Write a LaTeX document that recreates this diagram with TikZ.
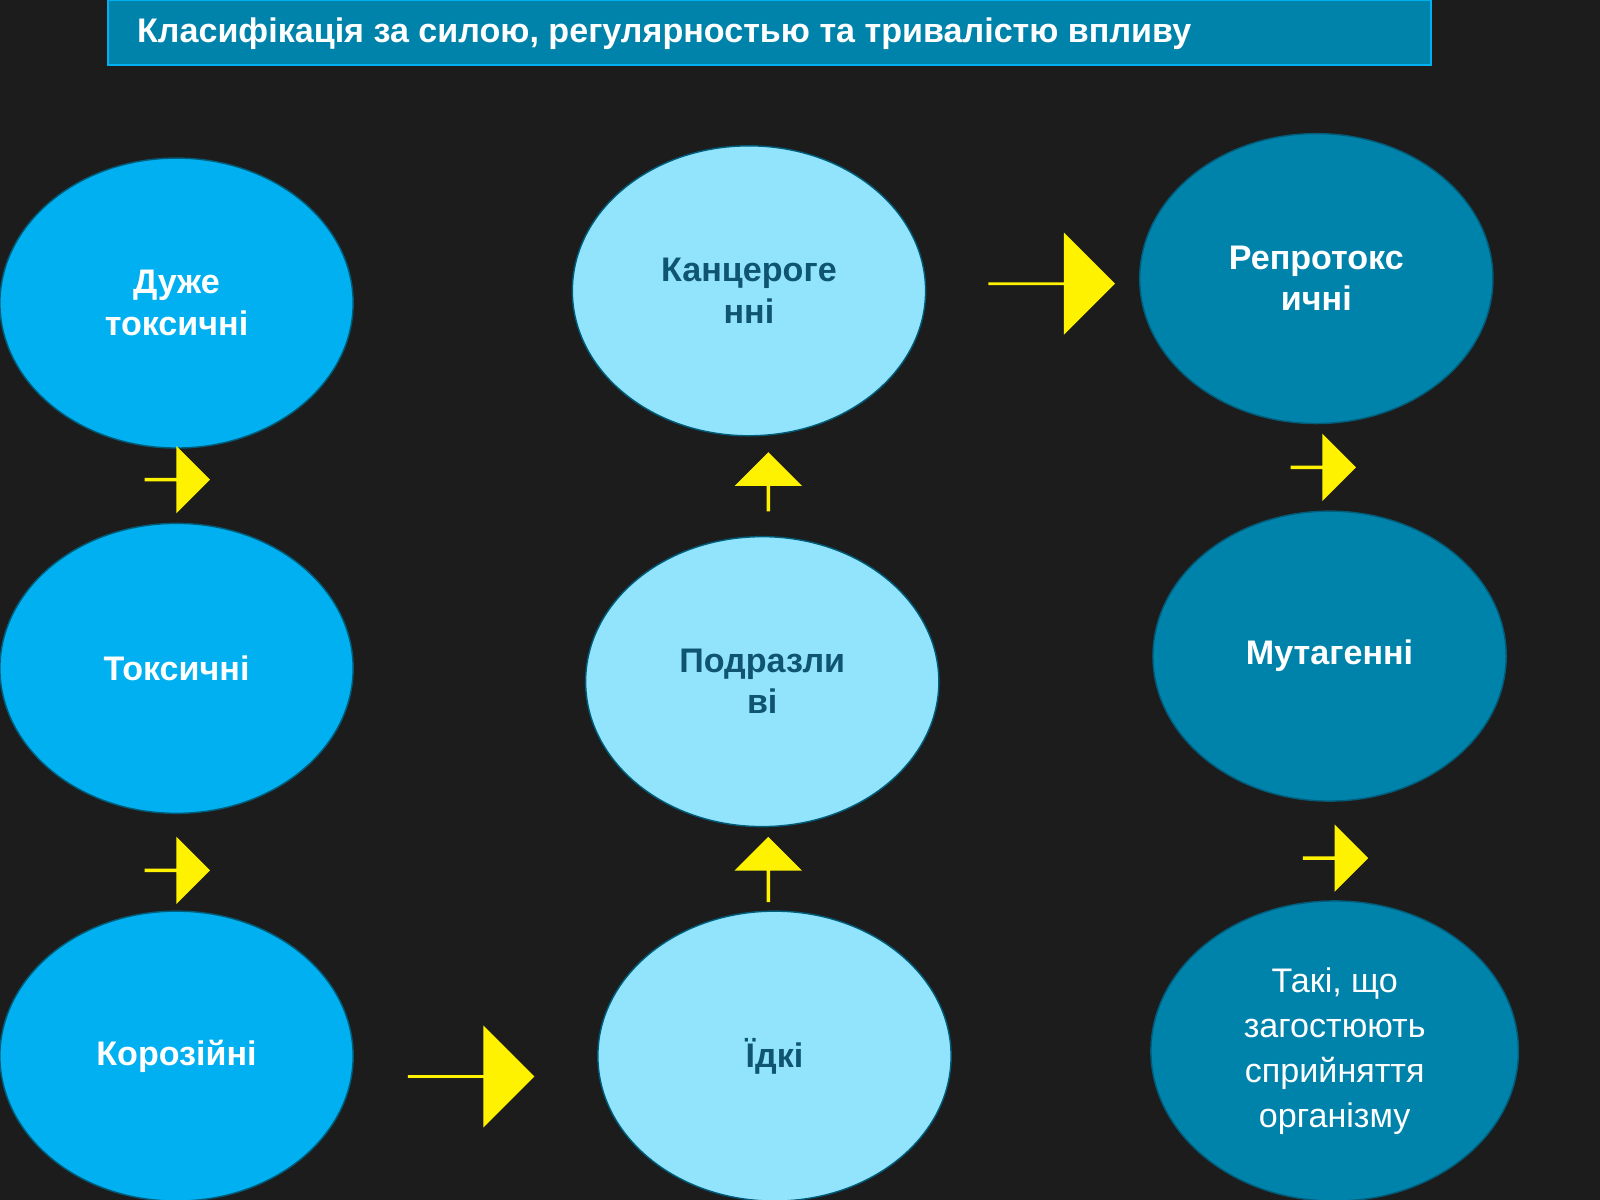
\documentclass[tikz,border=0pt]{standalone}
\usepackage{fontspec}
\setmainfont{Liberation Sans}
\usetikzlibrary{shapes.arrows}
\definecolor{bg}{HTML}{1C1C1C}
\definecolor{cA}{HTML}{00B0F0}
\definecolor{cB}{HTML}{92E4FC}
\definecolor{cC}{HTML}{0083AB}
\definecolor{tB}{HTML}{0F5570}
\tikzset{
 ell/.style={ellipse,minimum width=3.46cm,minimum height=2.84cm,draw=cC!70!black,line width=0.4pt,align=center,font=\fontsize{9.5}{11.5}\selectfont\bfseries,inner sep=0pt},
 ea/.style={ell,fill=cA,text=white},
 eb/.style={ell,fill=cB,text=tB},
 ec/.style={ell,fill=cC,text=white},
 arr/.style={single arrow,fill=yellow,draw=none,inner sep=0pt,single arrow head extend=0.13cm,minimum height=0.64cm,minimum width=0.66cm,shape border rotate=#1},
 bigarr/.style={single arrow,fill=yellow,draw=none,inner sep=0pt,single arrow head extend=0.25cm,minimum height=1.24cm,minimum width=1.0cm}
}
\usetikzlibrary{shapes.geometric}
\begin{document}
\begin{tikzpicture}[x=0.01cm,y=-0.01cm]
\fill[bg] (0,0) rectangle (1568,1176);
\useasboundingbox (0,0) rectangle (1568,1176);
\node[draw=cA,fill=cC,minimum width=12.96cm,minimum height=0.63cm,anchor=north west,inner sep=0pt] (t) at (105,0) {};
\node[anchor=west,text=white,font=\fontsize{9.5}{11}\selectfont\bfseries] (tt) at (122,33) {Класифікація за силою, регулярностью та тривалістю впливу};
\node[ea] (a1) at (173,297) {Дуже\\токсичні};
\node[ea] (a2) at (173,655) {Токсичні};
\node[ea] (a3) at (173,1035) {Корозійні};
\node[eb] (b1) at (734,285) {Канцероге\\нні};
\node[eb] (b2) at (747,668) {Подразли\\ві};
\node[eb] (b3) at (759,1035) {Їдкі};
\node[ec] (c1) at (1290,273) {Репротокс\\ичні};
\node[ec] (c2) at (1303,643) {Мутагенні};
\node[ec,minimum width=3.6cm,minimum height=2.94cm,font=\fontsize{9.5}{12.5}\selectfont] (c3) at (1308,1030) {Такі, що\\загостюють\\сприйняття\\організму};
\node[arr=-90] (d1) at (173,470) {};
\node[arr=-90] (d2) at (173,853) {};
\node[arr=-90] (d3) at (1296,458) {};
\node[arr=-90] (d4) at (1308,841) {};
\node[arr=90,minimum height=0.58cm] (u1) at (753,473) {};
\node[arr=90] (u2) at (753,853) {};
\node[bigarr] (r1) at (461,1055) {};
\node[bigarr] (r2) at (1030,278) {};
\end{tikzpicture}
\end{document}
